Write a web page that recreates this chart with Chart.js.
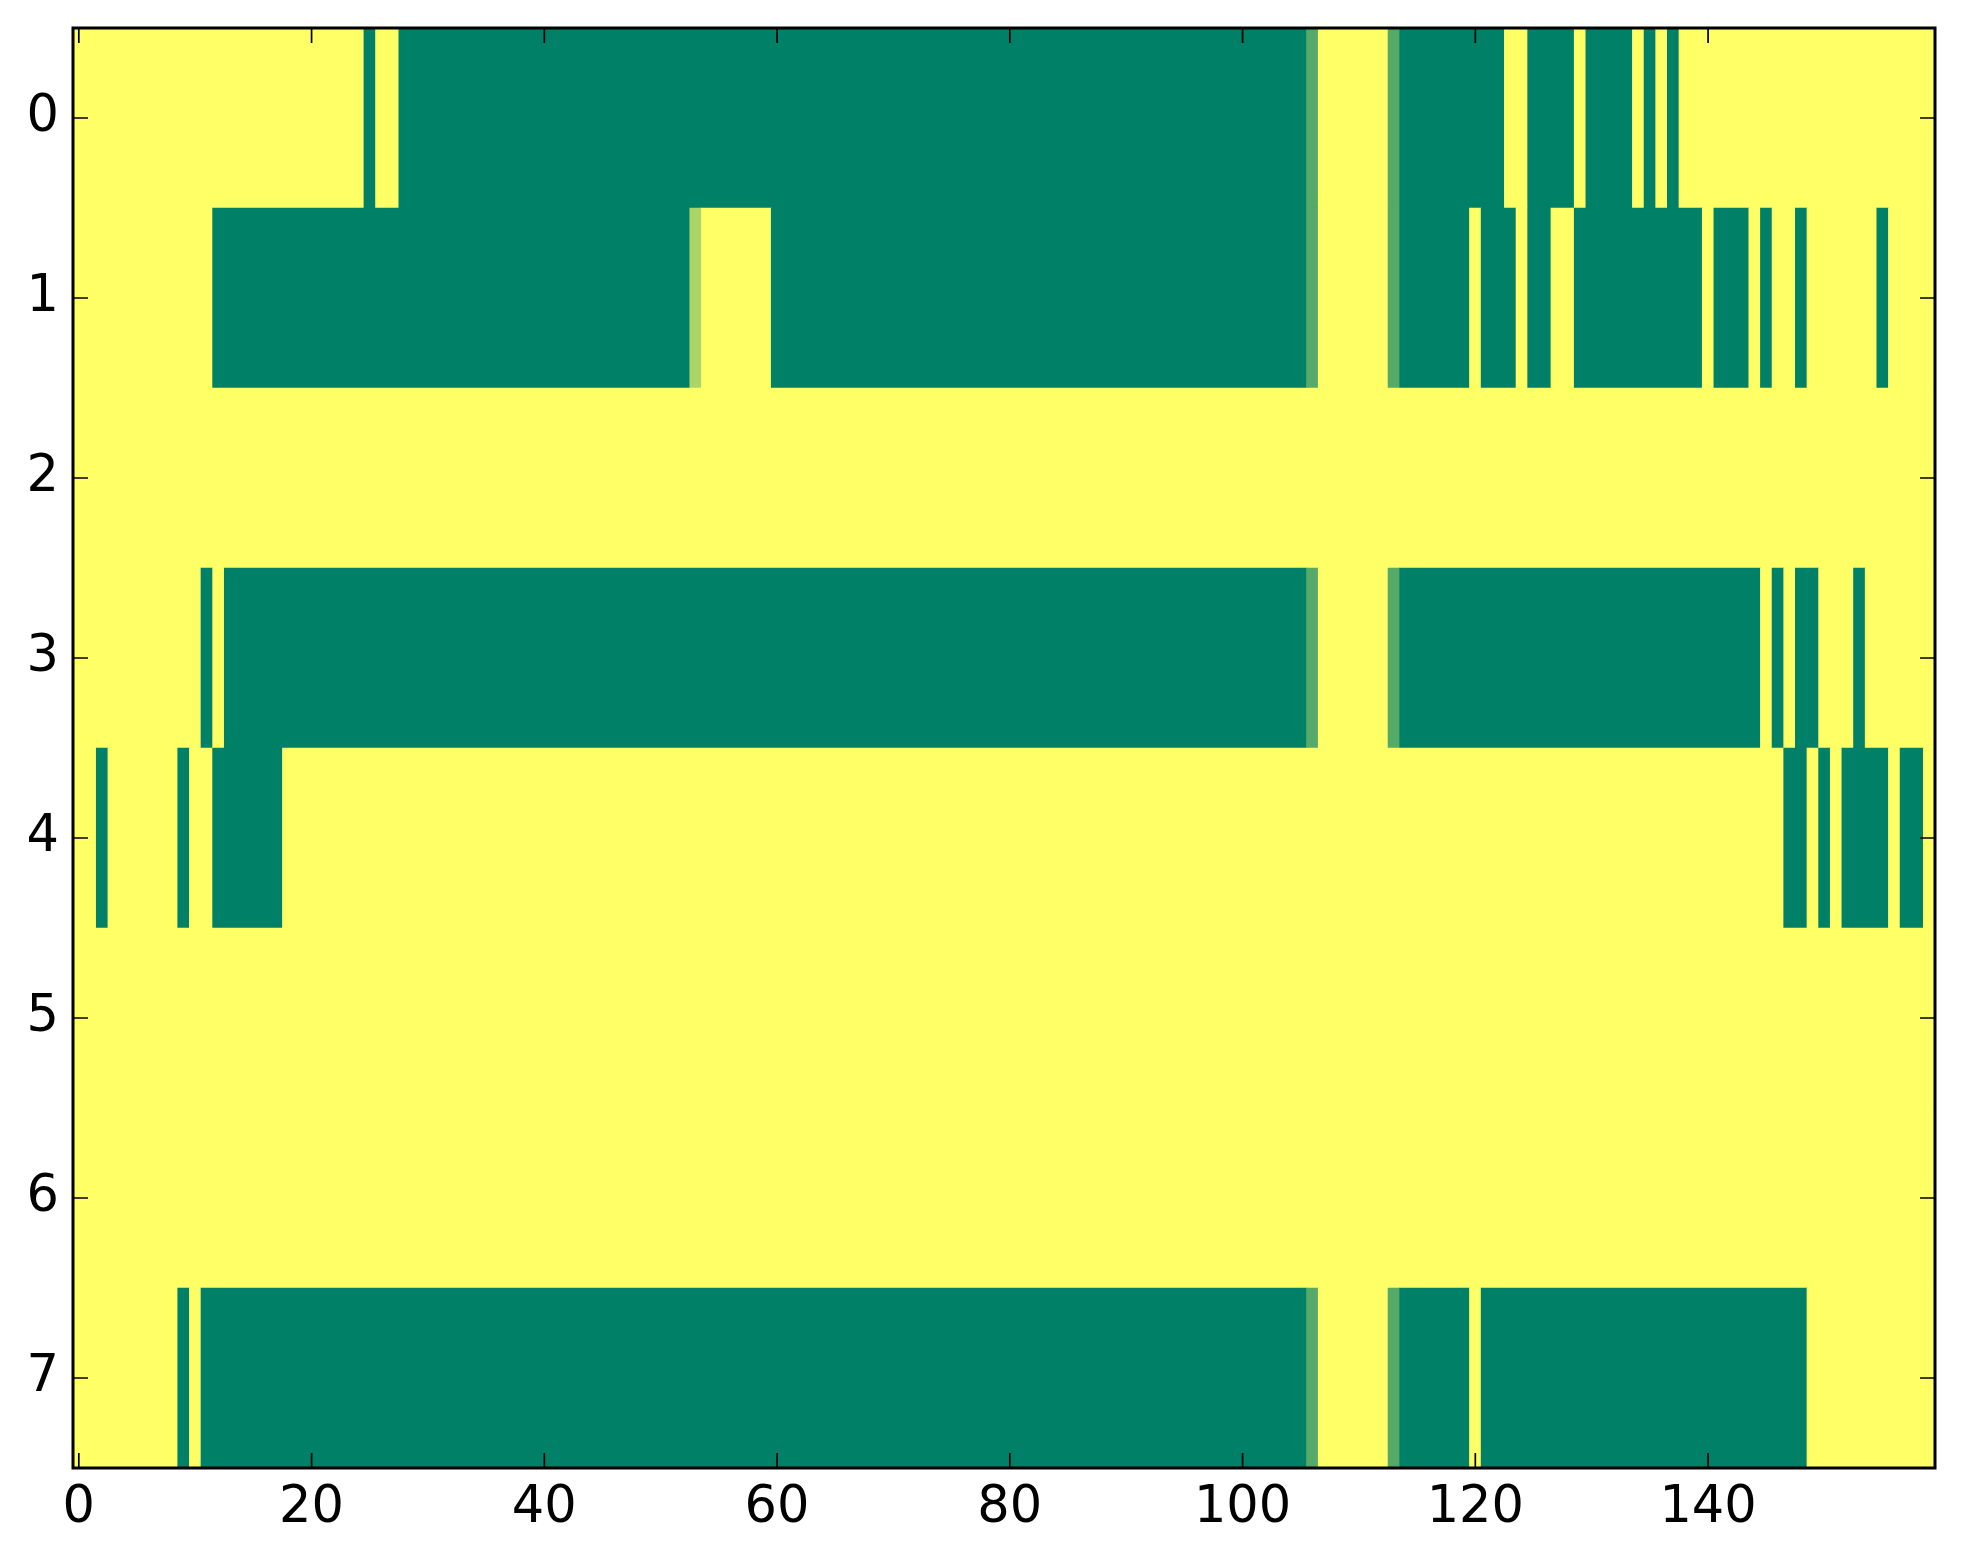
<!DOCTYPE html>
<html>
<head>
<meta charset="utf-8">
<script src="https://cdn.jsdelivr.net/npm/chart.js@4/dist/chart.umd.min.js"></script>
<style>
  body { margin: 0; background: #fff; }
  canvas { display: block; }
</style>
</head>
<body>
<canvas id="heat" width="1963" height="1564"></canvas>
<script>
// cell values, 1 = yellow end of the colormap, 0 = green end
const row0 = [
  1,1,1,1,1,1,1,1,1,1,1,1,1,1,1,1,1,1,1,1,
  1,1,1,1,1,0,1,1,0,0,0,0,0,0,0,0,0,0,0,0,
  0,0,0,0,0,0,0,0,0,0,0,0,0,0,0,0,0,0,0,0,
  0,0,0,0,0,0,0,0,0,0,0,0,0,0,0,0,0,0,0,0,
  0,0,0,0,0,0,0,0,0,0,0,0,0,0,0,0,0,0,0,0,
  0,0,0,0,0,0,.33,1,1,1,1,1,1,.33,0,0,0,0,0,0,
  0,0,0,1,1,0,0,0,0,1,0,0,0,0,1,0,1,0,1,1,
  1,1,1,1,1,1,1,1,1,1,1,1,1,1,1,1,1,1,1,1
];
const row1 = [
  1,1,1,1,1,1,1,1,1,1,1,1,0,0,0,0,0,0,0,0,
  0,0,0,0,0,0,0,0,0,0,0,0,0,0,0,0,0,0,0,0,
  0,0,0,0,0,0,0,0,0,0,0,0,0,.67,1,1,1,1,1,1,
  0,0,0,0,0,0,0,0,0,0,0,0,0,0,0,0,0,0,0,0,
  0,0,0,0,0,0,0,0,0,0,0,0,0,0,0,0,0,0,0,0,
  0,0,0,0,0,0,.33,1,1,1,1,1,1,.33,0,0,0,0,0,0,
  1,0,0,0,1,0,0,1,1,0,0,0,0,0,0,0,0,0,0,0,
  1,0,0,0,1,0,1,1,0,1,1,1,1,1,1,0,1,1,1,1
];
const row2 = [
  1,1,1,1,1,1,1,1,1,1,1,1,1,1,1,1,1,1,1,1,
  1,1,1,1,1,1,1,1,1,1,1,1,1,1,1,1,1,1,1,1,
  1,1,1,1,1,1,1,1,1,1,1,1,1,1,1,1,1,1,1,1,
  1,1,1,1,1,1,1,1,1,1,1,1,1,1,1,1,1,1,1,1,
  1,1,1,1,1,1,1,1,1,1,1,1,1,1,1,1,1,1,1,1,
  1,1,1,1,1,1,1,1,1,1,1,1,1,1,1,1,1,1,1,1,
  1,1,1,1,1,1,1,1,1,1,1,1,1,1,1,1,1,1,1,1,
  1,1,1,1,1,1,1,1,1,1,1,1,1,1,1,1,1,1,1,1
];
const row3 = [
  1,1,1,1,1,1,1,1,1,1,1,0,1,0,0,0,0,0,0,0,
  0,0,0,0,0,0,0,0,0,0,0,0,0,0,0,0,0,0,0,0,
  0,0,0,0,0,0,0,0,0,0,0,0,0,0,0,0,0,0,0,0,
  0,0,0,0,0,0,0,0,0,0,0,0,0,0,0,0,0,0,0,0,
  0,0,0,0,0,0,0,0,0,0,0,0,0,0,0,0,0,0,0,0,
  0,0,0,0,0,0,.33,1,1,1,1,1,1,.33,0,0,0,0,0,0,
  0,0,0,0,0,0,0,0,0,0,0,0,0,0,0,0,0,0,0,0,
  0,0,0,0,0,1,0,1,0,0,1,1,1,0,1,1,1,1,1,1
];
const row4 = [
  1,1,0,1,1,1,1,1,1,0,1,1,0,0,0,0,0,0,1,1,
  1,1,1,1,1,1,1,1,1,1,1,1,1,1,1,1,1,1,1,1,
  1,1,1,1,1,1,1,1,1,1,1,1,1,1,1,1,1,1,1,1,
  1,1,1,1,1,1,1,1,1,1,1,1,1,1,1,1,1,1,1,1,
  1,1,1,1,1,1,1,1,1,1,1,1,1,1,1,1,1,1,1,1,
  1,1,1,1,1,1,1,1,1,1,1,1,1,1,1,1,1,1,1,1,
  1,1,1,1,1,1,1,1,1,1,1,1,1,1,1,1,1,1,1,1,
  1,1,1,1,1,1,1,0,0,1,0,1,0,0,0,0,1,0,0,1
];
const row5 = [
  1,1,1,1,1,1,1,1,1,1,1,1,1,1,1,1,1,1,1,1,
  1,1,1,1,1,1,1,1,1,1,1,1,1,1,1,1,1,1,1,1,
  1,1,1,1,1,1,1,1,1,1,1,1,1,1,1,1,1,1,1,1,
  1,1,1,1,1,1,1,1,1,1,1,1,1,1,1,1,1,1,1,1,
  1,1,1,1,1,1,1,1,1,1,1,1,1,1,1,1,1,1,1,1,
  1,1,1,1,1,1,1,1,1,1,1,1,1,1,1,1,1,1,1,1,
  1,1,1,1,1,1,1,1,1,1,1,1,1,1,1,1,1,1,1,1,
  1,1,1,1,1,1,1,1,1,1,1,1,1,1,1,1,1,1,1,1
];
const row6 = [
  1,1,1,1,1,1,1,1,1,1,1,1,1,1,1,1,1,1,1,1,
  1,1,1,1,1,1,1,1,1,1,1,1,1,1,1,1,1,1,1,1,
  1,1,1,1,1,1,1,1,1,1,1,1,1,1,1,1,1,1,1,1,
  1,1,1,1,1,1,1,1,1,1,1,1,1,1,1,1,1,1,1,1,
  1,1,1,1,1,1,1,1,1,1,1,1,1,1,1,1,1,1,1,1,
  1,1,1,1,1,1,1,1,1,1,1,1,1,1,1,1,1,1,1,1,
  1,1,1,1,1,1,1,1,1,1,1,1,1,1,1,1,1,1,1,1,
  1,1,1,1,1,1,1,1,1,1,1,1,1,1,1,1,1,1,1,1
];
const row7 = [
  1,1,1,1,1,1,1,1,1,0,1,0,0,0,0,0,0,0,0,0,
  0,0,0,0,0,0,0,0,0,0,0,0,0,0,0,0,0,0,0,0,
  0,0,0,0,0,0,0,0,0,0,0,0,0,0,0,0,0,0,0,0,
  0,0,0,0,0,0,0,0,0,0,0,0,0,0,0,0,0,0,0,0,
  0,0,0,0,0,0,0,0,0,0,0,0,0,0,0,0,0,0,0,0,
  0,0,0,0,0,0,.33,1,1,1,1,1,1,.33,0,0,0,0,0,0,
  1,0,0,0,0,0,0,0,0,0,0,0,0,0,0,0,0,0,0,0,
  0,0,0,0,0,0,0,0,0,1,1,1,1,1,1,1,1,1,1,1
];
const rows = [row0, row1, row2, row3, row4, row5, row6, row7];
const xTicks = [0, 20, 40, 60, 80, 100, 120, 140];
const yTicks = [0, 1, 2, 3, 4, 5, 6, 7];

// matplotlib "summer": 0 -> (0,128,102), 1 -> (255,255,102)
function summer(v) {
  return 'rgb(' + Math.round(255 * v) + ',' + Math.round(255 * (0.5 + v / 2)) + ',102)';
}

// join neighbouring cells of the same value into one floating bar
const bars = [];
const colors = [];
rows.forEach(function (row, r) {
  let start = 0;
  for (let c = 1; c <= row.length; c++) {
    if (c === row.length || row[c] !== row[start]) {
      bars.push({ x: [start - 0.5, c - 0.5], y: r });
      colors.push(summer(row[start]));
      start = c;
    }
  }
});
const nCols = row0.length;

// frame with inward ticks on all four sides
const frame = {
  id: 'frame',
  afterDraw(chart) {
    const ctx = chart.ctx;
    const a = chart.chartArea;
    const sx = chart.scales.x, sy = chart.scales.y;
    ctx.save();
    ctx.strokeStyle = '#000';
    ctx.lineWidth = 1.7;
    ctx.beginPath();
    xTicks.forEach(function (v) {
      const px = sx.getPixelForValue(v);
      ctx.moveTo(px, a.bottom); ctx.lineTo(px, a.bottom - 15);
      ctx.moveTo(px, a.top); ctx.lineTo(px, a.top + 15);
    });
    yTicks.forEach(function (v) {
      const py = sy.getPixelForValue(v);
      ctx.moveTo(a.left, py); ctx.lineTo(a.left + 15, py);
      ctx.moveTo(a.right, py); ctx.lineTo(a.right - 15, py);
    });
    ctx.stroke();
    ctx.lineWidth = 3;
    ctx.strokeRect(a.left, a.top, a.right - a.left, a.bottom - a.top);
    ctx.restore();
  }
};

const tickFont = { family: 'DejaVu Sans', size: 51 };

new Chart(document.getElementById('heat').getContext('2d'), {
  type: 'bar',
  data: {
    datasets: [{
      data: bars,
      backgroundColor: colors,
      borderWidth: 0,
      barPercentage: 1,
      categoryPercentage: 1
    }]
  },
  options: {
    indexAxis: 'y',
    responsive: false,
    animation: false,
    devicePixelRatio: 1,
    layout: { padding: { top: 28, right: 28, left: 0, bottom: 0 } },
    plugins: { legend: { display: false }, tooltip: { enabled: false } },
    scales: {
      x: {
        type: 'linear',
        position: 'bottom',
        min: -0.5,
        max: nCols - 0.5,
        offset: false,
        grid: { display: false, drawTicks: false },
        border: { display: false },
        ticks: { font: tickFont, color: '#000', padding: 10, maxRotation: 0 },
        afterBuildTicks(scale) { scale.ticks = xTicks.map(v => ({ value: v })); },
        afterFit(scale) {
          scale.height = 96;
          scale.paddingLeft = 0;
          scale.paddingRight = 0;
        }
      },
      y: {
        type: 'linear',
        reverse: true,
        min: -0.5,
        max: rows.length - 0.5,
        offset: false,
        grid: { display: false, drawTicks: false },
        border: { display: false },
        ticks: { font: tickFont, color: '#000', padding: 14 },
        afterBuildTicks(scale) { scale.ticks = yTicks.map(v => ({ value: v })); },
        afterFit(scale) {
          scale.width = 73;
          scale.paddingTop = 0;
          scale.paddingBottom = 0;
        }
      }
    }
  },
  plugins: [frame]
});
</script>
</body>
</html>
